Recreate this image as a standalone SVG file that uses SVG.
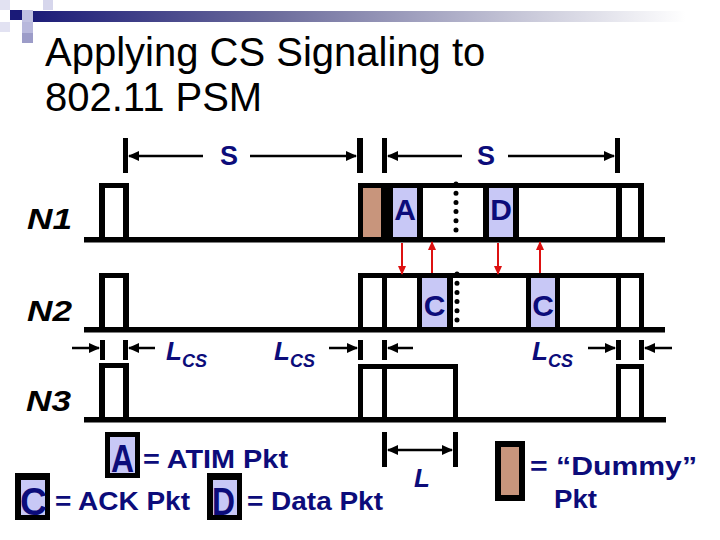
<svg xmlns="http://www.w3.org/2000/svg" width="720" height="540" viewBox="0 0 720 540">
<defs>
<linearGradient id="bar" x1="0" y1="0" x2="1" y2="0">
<stop offset="0" stop-color="#1c1c78"/>
<stop offset="0.35" stop-color="#6c6c9c"/>
<stop offset="0.7" stop-color="#c4c4d6"/>
<stop offset="0.95" stop-color="#ffffff"/>
</linearGradient>
<marker id="ah" markerUnits="userSpaceOnUse" markerWidth="11" markerHeight="10" refX="10" refY="5" orient="auto">
<path d="M0,0 L11,5 L0,10 Z" fill="#000"/>
</marker>
<marker id="rh" markerUnits="userSpaceOnUse" markerWidth="9" markerHeight="8" refX="8" refY="4" orient="auto">
<path d="M0,0 L9,4 L0,8 Z" fill="#dd1111"/>
</marker>
</defs>
<style>
.k{fill:#000}
.lav{fill:#c8c8f6}
.brn{fill:#c8957c}
.t{font-family:"Liberation Sans",Arial,sans-serif}
.nv{fill:#0c0c7a;font-weight:bold}
.pl{font-size:30px;font-weight:bold;fill:#0c0c7a;text-anchor:middle}
.nl{font-size:30px;font-weight:bold;font-style:italic;fill:#000}
.dim{stroke:#000;stroke-width:2.5;fill:none;marker-end:url(#ah)}
.red{stroke:#dd1111;stroke-width:2;fill:none;marker-end:url(#rh)}
.dot{stroke:#000;stroke-width:5;stroke-linecap:round;stroke-dasharray:0 9.2;fill:none}
.lg{font-size:25px}
.L{font-size:26px;font-style:italic}
.sub{font-size:18px;font-style:italic}
</style>

<g id="header">
<rect x="33" y="11" width="687" height="11" fill="url(#bar)"/>
<rect x="0" y="0" width="10" height="10" fill="#e2e2f2"/>
<rect x="43" y="0" width="10" height="10" fill="#d6d6ec"/>
<rect x="10" y="10" width="12" height="10" fill="#1a1a78"/>
<rect x="22" y="10" width="11" height="12" fill="#c2c2e2"/>
<rect x="0" y="22" width="10" height="10" fill="#e2e2f2"/>
<rect x="22" y="22" width="11" height="11" fill="#b8b8dc"/>
<rect x="22" y="33" width="11" height="10" fill="#9c9cc8"/>
<text class="t" x="45" y="66" font-size="40" fill="#000">Applying CS Signaling to</text>
<text class="t" x="45" y="111" font-size="40" fill="#000">802.11 PSM</text>
</g>

<g id="N1">
<text class="t nl" x="27" y="229" textLength="45" lengthAdjust="spacingAndGlyphs">N1</text>
<rect class="k" x="84" y="237" width="581" height="5.5"/>
<rect class="k" x="99" y="183" width="30" height="5"/>
<rect class="k" x="99" y="183" width="6" height="57"/>
<rect class="k" x="123" y="183" width="6" height="57"/>
<rect class="brn" x="363" y="188" width="18" height="49"/>
<rect class="lav" x="393" y="188" width="24" height="49"/>
<rect class="lav" x="489" y="188" width="24" height="49"/>
<rect class="k" x="358" y="183" width="286" height="5"/>
<rect class="k" x="358" y="183" width="5" height="57"/>
<rect class="k" x="381" y="183" width="12" height="57"/>
<rect class="k" x="417" y="183" width="6" height="57"/>
<rect class="k" x="483" y="183" width="6" height="57"/>
<rect class="k" x="513" y="183" width="6" height="57"/>
<rect class="k" x="616" y="183" width="6" height="57"/>
<rect class="k" x="638" y="183" width="6" height="57"/>
<line class="dot" x1="456" y1="184" x2="456" y2="231"/>
<text class="t pl" x="405" y="220">A</text>
<text class="t pl" x="501" y="220">D</text>
</g>

<g id="N2">
<text class="t nl" x="27" y="321" textLength="45" lengthAdjust="spacingAndGlyphs">N2</text>
<rect class="k" x="84" y="327" width="581" height="5.5"/>
<rect class="k" x="99" y="273" width="30" height="5"/>
<rect class="k" x="99" y="273" width="6" height="57"/>
<rect class="k" x="123" y="273" width="6" height="57"/>
<rect class="lav" x="422" y="278" width="25" height="49"/>
<rect class="lav" x="531" y="278" width="24" height="49"/>
<rect class="k" x="358" y="273" width="286" height="5"/>
<rect class="k" x="358" y="273" width="5" height="57"/>
<rect class="k" x="382" y="273" width="5" height="57"/>
<rect class="k" x="417" y="273" width="5" height="57"/>
<rect class="k" x="447" y="273" width="6" height="57"/>
<rect class="k" x="526" y="273" width="5" height="57"/>
<rect class="k" x="555" y="273" width="5" height="57"/>
<rect class="k" x="616" y="273" width="5" height="57"/>
<rect class="k" x="639" y="273" width="5" height="57"/>
<line class="dot" x1="457" y1="274" x2="457" y2="321"/>
<text class="t pl" x="434.5" y="316">C</text>
<text class="t pl" x="543" y="316">C</text>
</g>

<g id="N3">
<text class="t nl" x="26" y="411" textLength="45" lengthAdjust="spacingAndGlyphs">N3</text>
<rect class="k" x="84" y="417" width="582" height="5.5"/>
<rect class="k" x="99" y="363" width="30" height="5"/>
<rect class="k" x="99" y="363" width="6" height="57"/>
<rect class="k" x="123" y="363" width="6" height="57"/>
<rect class="k" x="358" y="364" width="100" height="5"/>
<rect class="k" x="358" y="364" width="5" height="56"/>
<rect class="k" x="382" y="364" width="5" height="56"/>
<rect class="k" x="453" y="364" width="5" height="56"/>
<rect class="k" x="616" y="364" width="28" height="5"/>
<rect class="k" x="616" y="364" width="5" height="56"/>
<rect class="k" x="639" y="364" width="5" height="56"/>
</g>

<g id="connectors">
<line class="red" x1="402" y1="243" x2="402" y2="274"/>
<line class="red" x1="432" y1="273" x2="432" y2="242"/>
<line class="red" x1="498" y1="243" x2="498" y2="274"/>
<line class="red" x1="540" y1="273" x2="540" y2="242"/>
</g>

<g id="dimensions">
<rect class="k" x="123" y="138" width="5" height="35"/>
<rect class="k" x="357" y="138" width="6" height="35"/>
<rect class="k" x="382" y="138" width="5" height="35"/>
<rect class="k" x="615" y="138" width="5" height="35"/>
<line class="dim" x1="203" y1="156" x2="129" y2="156"/>
<line class="dim" x1="250" y1="156" x2="356" y2="156"/>
<line class="dim" x1="462" y1="156" x2="388" y2="156"/>
<line class="dim" x1="508" y1="156" x2="614" y2="156"/>
<text class="t nv" x="229" y="165" font-size="27" text-anchor="middle">S</text>
<text class="t nv" x="486" y="165" font-size="27" text-anchor="middle">S</text>

<rect class="k" x="100" y="340" width="5" height="20"/>
<rect class="k" x="123" y="340" width="5" height="20"/>
<rect class="k" x="358" y="340" width="5" height="20"/>
<rect class="k" x="382" y="340" width="5" height="20"/>
<rect class="k" x="616" y="340" width="5" height="20"/>
<rect class="k" x="639" y="340" width="5" height="20"/>
<line class="dim" x1="72" y1="348" x2="99" y2="348"/>
<line class="dim" x1="155" y1="348" x2="129" y2="348"/>
<line class="dim" x1="329" y1="348" x2="357" y2="348"/>
<line class="dim" x1="413" y1="348" x2="388" y2="348"/>
<line class="dim" x1="588" y1="348" x2="615" y2="348"/>
<line class="dim" x1="672" y1="348" x2="645" y2="348"/>
<text class="t nv" x="166" y="360"><tspan class="L">L</tspan><tspan class="sub" dy="7">CS</tspan></text>
<text class="t nv" x="274" y="360"><tspan class="L">L</tspan><tspan class="sub" dy="7">CS</tspan></text>
<text class="t nv" x="532" y="360"><tspan class="L">L</tspan><tspan class="sub" dy="7">CS</tspan></text>

<rect class="k" x="382" y="432" width="5" height="35"/>
<rect class="k" x="453" y="432" width="5" height="35"/>
<line class="dim" x1="420" y1="450" x2="388" y2="450"/>
<line class="dim" x1="420" y1="450" x2="452" y2="450"/>
<text class="t nv L" x="414" y="487">L</text>
</g>

<g id="legend">
<rect class="k" x="105" y="432" width="35" height="46"/>
<rect class="lav" x="110" y="437" width="25" height="36"/>
<text class="t nv" x="111" y="472" font-size="38" textLength="23" lengthAdjust="spacingAndGlyphs">A</text>
<text class="t nv lg" x="143" y="468" textLength="145" lengthAdjust="spacingAndGlyphs">= ATIM Pkt</text>

<rect class="k" x="15" y="473" width="35" height="47"/>
<rect class="lav" x="21" y="480" width="24" height="35"/>
<text class="t nv" x="20" y="515" font-size="38" textLength="27" lengthAdjust="spacingAndGlyphs">C</text>
<text class="t nv lg" x="55" y="510" textLength="135" lengthAdjust="spacingAndGlyphs">= ACK Pkt</text>

<rect class="k" x="207" y="473" width="35" height="47"/>
<rect class="lav" x="213" y="480" width="24" height="35"/>
<text class="t nv" x="212" y="515" font-size="38" textLength="23" lengthAdjust="spacingAndGlyphs">D</text>
<text class="t nv lg" x="247" y="510" textLength="136" lengthAdjust="spacingAndGlyphs">= Data Pkt</text>

<rect class="k" x="495" y="441" width="30" height="60"/>
<rect class="brn" x="501" y="447" width="18" height="48"/>
<text class="t nv lg" x="530" y="475" textLength="167" lengthAdjust="spacingAndGlyphs">= “Dummy”</text>
<text class="t nv lg" x="554" y="508" textLength="43" lengthAdjust="spacingAndGlyphs">Pkt</text>
</g>
</svg>
